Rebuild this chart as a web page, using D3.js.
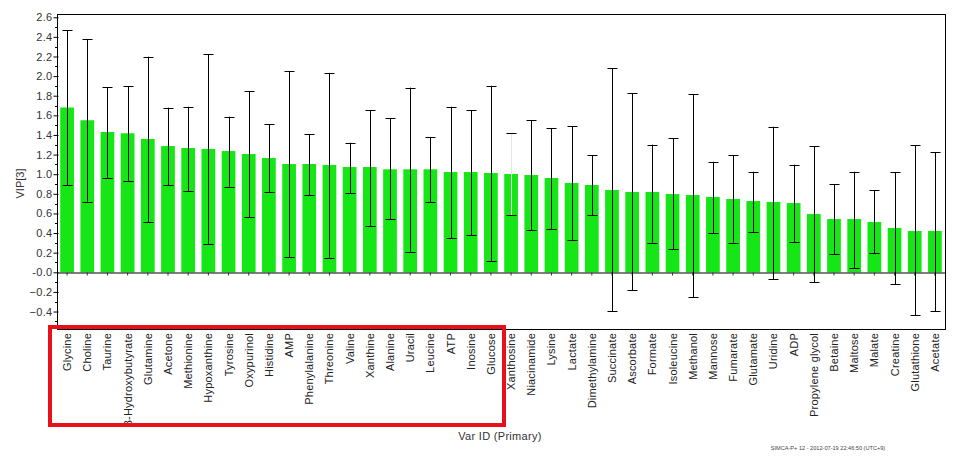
<!DOCTYPE html>
<html>
<head>
<meta charset="utf-8">
<script src="https://cdn.jsdelivr.net/npm/d3@7"></script>
<style>
  html, body { margin: 0; padding: 0; background: #fff; }
  svg { display: block; font-family: "Liberation Sans", Arial, sans-serif; }
</style>
</head>
<body>
<svg id="chart" width="962" height="458"></svg>
<script>
const categories = ["Glycine","Choline","Taurine","3-Hydroxybutyrate","Glutamine","Acetone","Methionine","Hypoxanthine","Tyrosine","Oxypurinol","Histidine","AMP","Phenylalanine","Threonine","Valine","Xanthine","Alanine","Uracil","Leucine","ATP","Inosine","Glucose","Xanthosine","Niacinamide","Lysine","Lactate","Dimethylamine","Succinate","Ascorbate","Formate","Isoleucine","Methanol","Mannose","Fumarate","Glutamate","Uridine","ADP","Propylene glycol","Betaine","Maltose","Malate","Creatine","Glutathione","Acetate"];
const vip = [1.68,1.55,1.43,1.417,1.359,1.287,1.267,1.257,1.236,1.206,1.165,1.104,1.104,1.094,1.073,1.073,1.05,1.05,1.05,1.022,1.022,1.012,1.002,0.992,0.961,0.91,0.89,0.839,0.819,0.819,0.798,0.788,0.768,0.747,0.727,0.717,0.706,0.594,0.543,0.543,0.513,0.452,0.421,0.421];
const errHigh = [2.47,2.375,1.886,1.896,2.198,1.678,1.688,2.222,1.586,1.845,1.509,2.049,1.407,2.032,1.321,1.651,1.57,1.882,1.376,1.688,1.651,1.902,1.423,1.549,1.468,1.488,1.193,2.08,1.825,1.301,1.366,1.815,1.127,1.193,1.025,1.484,1.097,1.284,0.897,1.025,0.836,1.019,1.295,1.223];
const errLow = [0.89,0.72,0.96,0.934,0.51,0.89,0.826,0.285,0.873,0.56,0.815,0.156,0.785,0.143,0.805,0.469,0.54,0.21,0.713,0.346,0.377,0.115,0.581,0.428,0.444,0.326,0.581,-0.395,-0.184,0.302,0.237,-0.252,0.397,0.302,0.408,-0.068,0.306,-0.102,0.183,0.041,0.194,-0.122,-0.435,-0.398];
const yTicks = [-0.4,-0.2,0,0.2,0.4,0.6,0.8,1.0,1.2,1.4,1.6,1.8,2.0,2.2,2.4,2.6];
const yLabel = "VIP[3]";
const xLabel = "Var ID (Primary)";
const footer = "SIMCA-P+ 12 - 2012-07-19 22:46:50 (UTC+9)";
const faintBars = ["Xanthosine"];

(function () {
const svg = d3.select("#chart");
const mLeft = 57, mRight = 945, mTop = 14, mBottom = 329;

const x = d3.scaleBand().domain(categories).range([mLeft, mRight]).paddingInner(0.32).paddingOuter(0.16);
const y = d3.scaleLinear().domain([-0.578, 2.633]).range([mBottom, mTop]);

// bars
svg.append("g").selectAll("rect").data(categories).join("rect")
  .attr("x", d => x(d))
  .attr("width", x.bandwidth())
  .attr("y", (d, i) => y(vip[i]))
  .attr("height", (d, i) => y(0) - y(vip[i]))
  .attr("fill", "#16e616");

// zero axis with ticks
const xAxis = svg.append("g").attr("transform", `translate(0,${Math.round(y(0)) + 0.5})`)
  .call(d3.axisBottom(x).tickSize(3).tickSizeOuter(0).tickFormat(""));
xAxis.select(".domain").attr("stroke", "#000");
xAxis.selectAll(".tick line").attr("stroke", "#333");

// error bars
const cx = d => Math.round(x(d) + x.bandwidth() / 2) + 0.5;
const eb = svg.append("g").selectAll("g").data(categories).join("g");
eb.append("line")
  .attr("stroke", d => faintBars.includes(d) ? "#e6e6e6" : "#000")
  .attr("x1", cx).attr("x2", cx)
  .attr("y1", (d, i) => y(errHigh[i])).attr("y2", (d, i) => y(errLow[i]));
eb.append("line")
  .attr("stroke", "#000")
  .attr("x1", d => cx(d) - 5).attr("x2", d => cx(d) + 5)
  .attr("y1", (d, i) => Math.round(y(errHigh[i])) + 0.5).attr("y2", (d, i) => Math.round(y(errHigh[i])) + 0.5);
eb.append("line")
  .attr("stroke", "#000")
  .attr("x1", d => cx(d) - 5).attr("x2", d => cx(d) + 5)
  .attr("y1", (d, i) => Math.round(y(errLow[i])) + 0.5).attr("y2", (d, i) => Math.round(y(errLow[i])) + 0.5);

// frame
svg.append("rect")
  .attr("x", mLeft + 0.5).attr("y", mTop + 0.5)
  .attr("width", mRight - mLeft).attr("height", mBottom - mTop)
  .attr("fill", "none").attr("stroke", "#000").attr("stroke-width", 1);

// y axis
const yAxis = svg.append("g").attr("transform", `translate(${mLeft + 0.5},0)`)
  .call(d3.axisLeft(y).tickValues(yTicks).tickSize(4).tickPadding(1)
    .tickFormat(v => Math.abs(v) < 1e-9 ? "-0.0" : d3.format(".1f")(v)));
yAxis.select(".domain").remove();
yAxis.selectAll(".tick line").attr("stroke", "#000").attr("x2", -4).attr("x1", 1);
yAxis.selectAll(".tick text").attr("font-size", 11).attr("fill", "#333")
  .attr("letter-spacing", "0.3px")
  .attr("font-family", "'Liberation Sans', Arial, sans-serif");
// minor ticks
const minor = d3.range(-0.5, 2.61, 0.1).filter(v => !yTicks.some(t => Math.abs(t - v) < 1e-6));
svg.append("g").selectAll("line").data(minor).join("line")
  .attr("x1", mLeft - 2).attr("x2", mLeft + 1)
  .attr("y1", v => Math.round(y(v)) + 0.5).attr("y2", v => Math.round(y(v)) + 0.5)
  .attr("stroke", "#000");

// category labels
svg.append("g").selectAll("text").data(categories).join("text")
  .attr("transform", d => `translate(${x(d) + x.bandwidth() / 2 + 4},${mBottom + 4}) rotate(-90)`)
  .attr("text-anchor", "end")
  .attr("font-size", 11)
  .attr("letter-spacing", "0.2px")
  .attr("fill", "#222")
  .text(d => d);

// axis titles
svg.append("text")
  .attr("transform", `translate(24,${(mTop + mBottom) / 2 + 12}) rotate(-90)`)
  .attr("text-anchor", "middle").attr("font-size", 11).attr("fill", "#333")
  .text(yLabel);
svg.append("text")
  .attr("x", 500).attr("y", 440)
  .attr("text-anchor", "middle").attr("font-size", 11).attr("fill", "#333")
  .attr("letter-spacing", "0.3px")
  .text(xLabel);
svg.append("text")
  .attr("x", 828).attr("y", 450)
  .attr("text-anchor", "middle").attr("font-size", 5.6).attr("fill", "#444")
  .text(footer);

// red highlight box
svg.append("rect")
  .attr("x", 50).attr("y", 327).attr("width", 454).attr("height", 98)
  .attr("fill", "none").attr("stroke", "#e8101a").attr("stroke-width", 4);
})();
</script>
</body>
</html>
